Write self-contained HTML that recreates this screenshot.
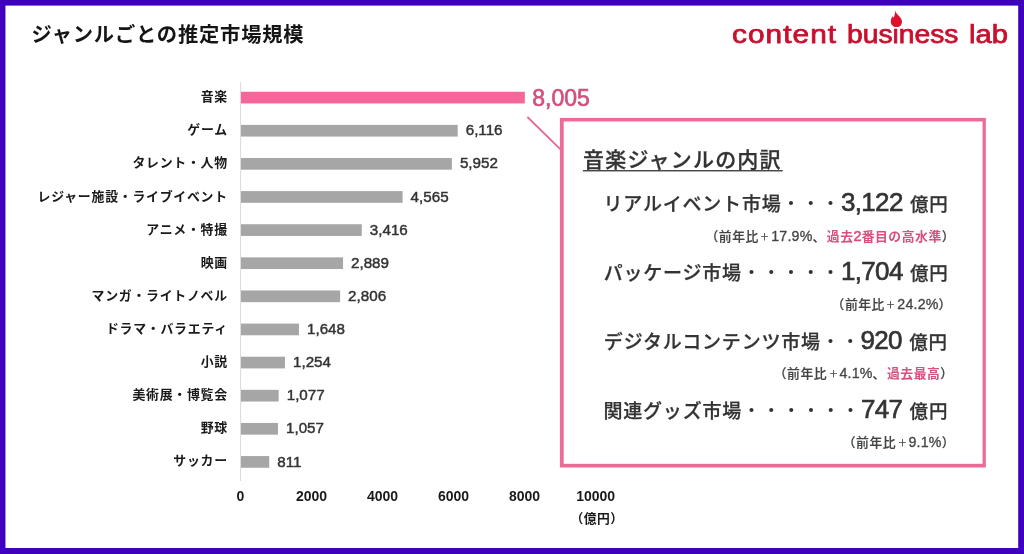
<!DOCTYPE html>
<html lang="ja">
<head>
<meta charset="utf-8">
<title>ジャンルごとの推定市場規模</title>
<style>
*{margin:0;padding:0;box-sizing:border-box}
html,body{width:1024px;height:554px;overflow:hidden;background:#3e00bc}
body{position:relative;font-family:"Liberation Sans","Noto Sans CJK JP",sans-serif;color:#333}
.abs{position:absolute;white-space:nowrap}
#title{left:31.6px;top:18.5px;font-size:20.3px;font-weight:700;color:#151515;line-height:32px;letter-spacing:0.8px}
.lab{right:796.1px;font-size:12.9px;letter-spacing:0.75px;font-weight:700;color:#1a1a1a;line-height:20px;height:20px;text-align:right}
.val{font-size:15.2px;line-height:20px;height:20px;color:#333;-webkit-text-stroke:0.45px #333}
.val.p{font-size:23px;color:#d24f7b;line-height:28px;height:28px;-webkit-text-stroke:0.65px #d24f7b}
.tick{font-size:14px;font-weight:700;color:#1a1a1a;line-height:20px;height:20px;width:80px;text-align:center}
#unit{font-size:12.8px;letter-spacing:0.4px;font-weight:700;color:#1a1a1a;line-height:20px;height:20px;width:80px;text-align:center}
#btitle{left:583px;top:144.2px;font-size:21px;letter-spacing:1.2px;-webkit-text-stroke:0.3px #333;line-height:32px;color:#333;font-weight:500}
.row{font-size:19px;letter-spacing:0.8px;-webkit-text-stroke:0.25px #333;line-height:36px;height:36px;color:#333;font-weight:500;text-align:right}
.row b{font-size:26px;font-weight:400;letter-spacing:-0.65px;-webkit-text-stroke:0.65px #333}
.row span{font-weight:400;-webkit-text-stroke:0}
.row u{text-decoration:none;font-size:18.5px;letter-spacing:0.8px;margin-left:1.2px}
.sub{font-size:12.8px;letter-spacing:0.55px;-webkit-text-stroke:0.2px #444;line-height:20px;height:20px;color:#444;text-align:right;font-weight:500}
.sub b{font-weight:400;font-size:14.2px;letter-spacing:0.2px;-webkit-text-stroke:0.3px #444}
.sub s{text-decoration:none;font-weight:500;display:inline-block;transform:scale(0.74);margin:0 -0.5px}
.sub em{font-style:normal;margin-right:1px}
.sub i{font-style:normal;color:#d6517d;font-weight:700;-webkit-text-stroke:0}
.sub i b{-webkit-text-stroke:0.6px #d6517d}
#logo{left:0;top:0;width:1024px;height:60px;font-family:"Liberation Sans",sans-serif;font-size:26.2px;font-weight:400;line-height:40px;color:#c8102e;-webkit-text-stroke:0.75px #c8102e}
#logo span{position:absolute;top:14.4px;white-space:pre;transform-origin:0 50%}
#lw1{left:731.6px;letter-spacing:0.9px;transform:scaleX(1.14)}
#lw2{left:846.8px;transform:scaleX(1.078)}
#lw3{left:968.6px;transform:scaleX(1.115)}
</style>
</head>
<body>

<svg class="abs" style="left:0;top:0" width="1024" height="554" viewBox="0 0 1024 554"><rect x="5.45" y="5.6" width="1012.75" height="542.4" fill="#ffffff"/><rect x="240" y="82" width="1.1" height="399" fill="#dddddd"/><rect x="241" y="91.75" width="283.82" height="11.7" fill="#f7669a"/><rect x="241" y="124.87" width="216.70" height="11.7" fill="#a6a6a6"/><rect x="241" y="157.99" width="210.87" height="11.7" fill="#a6a6a6"/><rect x="241" y="191.11" width="161.59" height="11.7" fill="#a6a6a6"/><rect x="241" y="224.23" width="120.77" height="11.7" fill="#a6a6a6"/><rect x="241" y="257.35" width="102.05" height="11.7" fill="#a6a6a6"/><rect x="241" y="290.47" width="99.10" height="11.7" fill="#a6a6a6"/><rect x="241" y="323.59" width="57.95" height="11.7" fill="#a6a6a6"/><rect x="241" y="356.71" width="43.95" height="11.7" fill="#a6a6a6"/><rect x="241" y="389.83" width="37.67" height="11.7" fill="#a6a6a6"/><rect x="241" y="422.95" width="36.96" height="11.7" fill="#a6a6a6"/><rect x="241" y="456.07" width="28.21" height="11.7" fill="#a6a6a6"/><line x1="527.4" y1="117" x2="560.5" y2="149.4" stroke="#e36a93" stroke-width="1.8"/><rect x="559.9" y="117.9" width="425.95" height="349.6" fill="#ee6a99"/><rect x="563.7" y="121.5" width="418.85" height="342.3" fill="#ffffff"/><rect x="582.9" y="170.1" width="199.8" height="1.3" fill="#333333"/></svg>
<div id="title" class="abs">ジャンルごとの推定市場規模</div>
<div id="logo" class="abs"><span id="lw1">content </span><span id="lw2">business </span><span id="lw3">lab</span></div>
<svg class="abs" style="left:880px;top:5px" width="32" height="28" viewBox="880 5 32 28"><path d="M895.3 10.3C895.7 12.4 896.8 13.7 897.8 14.8C899.3 16.4 900.7 17.7 901.5 19.4C902.8 22.2 901.6 27.1 896.4 27.1C891.3 27.1 890.1 22.5 891.2 19.1C891.6 17.9 892.1 17 892.4 15.9C892.8 17 893.2 17.5 893.8 17.5C894.6 15.6 895.2 13 895.3 10.3Z" fill="#e0112d"/></svg>
<div class="abs lab" style="top:87.1px">音楽</div>
<div class="abs val p" style="left:532.3px;top:83.6px">8,005</div>
<div class="abs lab" style="top:120.2px">ゲーム</div>
<div class="abs val" style="left:465.7px;top:120.3px">6,116</div>
<div class="abs lab" style="top:153.3px">タレント・人物</div>
<div class="abs val" style="left:459.9px;top:153.4px">5,952</div>
<div class="abs lab" style="top:186.5px">レジャー施設・ライブイベント</div>
<div class="abs val" style="left:410.6px;top:186.6px">4,565</div>
<div class="abs lab" style="top:219.6px">アニメ・特撮</div>
<div class="abs val" style="left:369.8px;top:219.7px">3,416</div>
<div class="abs lab" style="top:252.7px">映画</div>
<div class="abs val" style="left:351.0px;top:252.8px">2,889</div>
<div class="abs lab" style="top:285.8px">マンガ・ライトノベル</div>
<div class="abs val" style="left:348.1px;top:285.9px">2,806</div>
<div class="abs lab" style="top:318.9px">ドラマ・バラエティ</div>
<div class="abs val" style="left:307.0px;top:319.0px">1,648</div>
<div class="abs lab" style="top:352.1px">小説</div>
<div class="abs val" style="left:293.0px;top:352.2px">1,254</div>
<div class="abs lab" style="top:385.2px">美術展・博覧会</div>
<div class="abs val" style="left:286.7px;top:385.3px">1,077</div>
<div class="abs lab" style="top:418.3px">野球</div>
<div class="abs val" style="left:286.0px;top:418.4px">1,057</div>
<div class="abs lab" style="top:451.4px">サッカー</div>
<div class="abs val" style="left:277.2px;top:451.5px">811</div>
<div class="abs tick" style="left:200.4px;top:486.4px">0</div>
<div class="abs tick" style="left:271.5px;top:486.4px">2000</div>
<div class="abs tick" style="left:342.5px;top:486.4px">4000</div>
<div class="abs tick" style="left:413.6px;top:486.4px">6000</div>
<div class="abs tick" style="left:484.6px;top:486.4px">8000</div>
<div class="abs tick" style="left:555.7px;top:486.4px">10000</div>
<div id="unit" class="abs" style="left:557px;top:509px">（億円）</div>
<div id="btitle" class="abs">音楽ジャンルの内訳</div>
<div class="abs row" style="top:184px;right:75.4px">リアルイベント市場<span>・・・</span><b>3,122</b> <u>億円</u></div>
<div class="abs sub" style="top:225.5px;right:68.9px">（前年比<s>＋</s><b>17.9%</b><em>、</em><i>過去<b>2</b>番目の高水準</i>）</div>
<div class="abs row" style="top:253px;right:75.4px">パッケージ市場<span>・・・・・</span><b>1,704</b> <u>億円</u></div>
<div class="abs sub" style="top:293.6px;right:72.1px">（前年比<s>＋</s><b>24.2%</b>）</div>
<div class="abs row" style="top:322px;right:76.2px">デジタルコンテンツ市場<span>・・</span><b>920</b> <u>億円</u></div>
<div class="abs sub" style="top:363.4px;right:70.3px">（前年比<s>＋</s><b>4.1%</b><em>、</em><i>過去最高</i>）</div>
<div class="abs row" style="top:391px;right:75.8px">関連グッズ市場<span>・・・・・・</span><b>747</b> <u>億円</u></div>
<div class="abs sub" style="top:432.4px;right:69.0px">（前年比<s>＋</s><b>9.1%</b>）</div>
</body>
</html>
